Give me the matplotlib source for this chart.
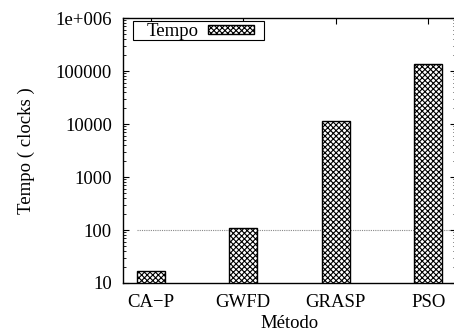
import matplotlib
matplotlib.use("Agg")
import matplotlib.pyplot as plt
from matplotlib.patches import Rectangle
from matplotlib.ticker import FixedLocator, FixedFormatter, LogLocator, NullFormatter

metodos = ["CA\u2212P", "GWFD", "GRASP", "PSO"]
tempo = [15.6, 108, 11300, 133000]
yticks = [10, 100, 1000, 10000, 100000, 1000000]
ytick_labels = ["10", "100", "1000", "10000", "100000", "1e+006"]

plt.rcParams["font.family"] = ["Liberation Serif", "DejaVu Serif"]
plt.rcParams["font.size"] = 13.5
plt.rcParams["hatch.linewidth"] = 0.8

fig = plt.figure(figsize=(4.54, 3.32), dpi=100)
ax = fig.add_axes([0.271, 0.1476, 0.7335, 0.798])

x = list(range(len(metodos)))
ax.hlines(100, -0.15, 3.3, colors="#888888", linestyles=(0, (1, 1)), linewidth=0.8, zorder=1)
ax.bar(x, tempo, width=0.3, bottom=1, color="white", edgecolor="black",
       hatch="xxxxxx", linewidth=1.0, label="Tempo", zorder=2)

ax.set_yscale("log")
ax.set_ylim(10, 1e6)
ax.set_xlim(-0.3, 3.3)
ax.yaxis.set_major_locator(FixedLocator(yticks))
ax.yaxis.set_major_formatter(FixedFormatter(ytick_labels))
ax.yaxis.set_minor_locator(LogLocator(base=10, subs=range(2, 10)))
ax.yaxis.set_minor_formatter(NullFormatter())
ax.set_xticks(x)
ax.set_xticklabels(metodos)

ax.tick_params(axis="y", which="both", direction="in", left=True, right=True)
ax.tick_params(axis="y", which="major", length=4, pad=8)
ax.tick_params(axis="y", which="minor", length=2)
ax.tick_params(axis="x", direction="in", bottom=False, top=True, length=4, pad=8)
for s in ax.spines.values():
    s.set_linewidth(1.0)

ax.set_ylabel("Tempo ( clocks )", labelpad=15)
ax.set_xlabel("M\u00e9todo", labelpad=3)

# legend box like gnuplot's: text first, then the sample
ax.add_patch(Rectangle((0.030, 0.917), 0.3934, 0.0717, transform=ax.transAxes,
                       facecolor="white", edgecolor="black", linewidth=0.8, zorder=4))
leg = ax.legend(loc="center left", bbox_to_anchor=(0.072, 0.948), markerfirst=False,
                frameon=False, borderaxespad=0, borderpad=0,
                handlelength=2.45, handleheight=0.37, handletextpad=0.48)
leg.set_zorder(5)

fig.savefig("out.png", dpi=100)
